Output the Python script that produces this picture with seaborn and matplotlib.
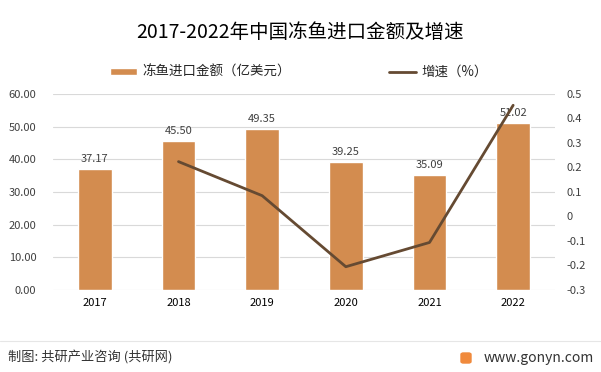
import matplotlib
matplotlib.use("Agg")
import matplotlib.pyplot as plt
import seaborn as sns
import numpy as np
import pandas as pd
from matplotlib.patches import FancyBboxPatch

years = ["2017", "2018", "2019", "2020", "2021", "2022"]
amount = [37.17, 45.50, 49.35, 39.25, 35.09, 51.02]
growth_years = ["2018", "2019", "2020", "2021", "2022"]
growth = [0.224, 0.085, -0.205, -0.106, 0.454]

bar_color = "#D38C4F"
line_color = "#654A32"

sns.set_theme(style="white")
plt.rcParams["font.family"] = ["Noto Sans CJK SC", "DejaVu Sans"]

df = pd.DataFrame({"year": years, "amount": amount})

fig = plt.figure(figsize=(6.01, 3.72), dpi=100)
ax = fig.add_axes([53 / 601, 1 - 290 / 372, (555 - 53) / 601, (290 - 94) / 372])
sns.barplot(data=df, x="year", y="amount", color=bar_color, width=0.4,
            saturation=1, ax=ax, label="冻鱼进口金额（亿美元）")
ax.set_ylim(0, 60)
ax.set_yticks(np.arange(0, 61, 10))
ax.set_yticklabels([f"{v:.2f}" for v in np.arange(0, 61, 10)], fontsize=8, color="#404040")
ax.set_xlim(-0.5, 5.5)
ax.set_xlabel("")
ax.set_ylabel("")
ax.tick_params(axis="x", labelsize=8, colors="#000000", length=0, pad=6)
ax.tick_params(axis="y", length=0, pad=12)
ax.grid(axis="y", color="#D9D9D9", linewidth=0.8)
ax.set_axisbelow(True)
for s in ax.spines.values():
    s.set_visible(False)
for i, v in enumerate(amount):
    ax.text(i, v + 1.5, f"{v:.2f}", ha="center", va="bottom", fontsize=8, color="#404040")

ax2 = ax.twinx()
gx = [years.index(y) for y in growth_years]
sns.lineplot(x=gx, y=growth, color=line_color, linewidth=2, ax=ax2, label="增速（%）")
ax2.set_ylim(-0.3, 0.5)
ticks = np.round(np.arange(-0.3, 0.51, 0.1), 1)
ax2.set_yticks(ticks)
ax2.set_yticklabels([f"{t:g}" for t in ticks], fontsize=8, color="#404040")
ax2.tick_params(axis="y", length=0, pad=8)
ax2.grid(False)
for s in ax2.spines.values():
    s.set_visible(False)
if ax2.get_legend():
    ax2.get_legend().remove()
if ax.get_legend():
    ax.get_legend().remove()

h1, l1 = ax.get_legend_handles_labels()
h2, l2 = ax2.get_legend_handles_labels()
fig.legend(h1 + h2, l1 + l2, loc="center", bbox_to_anchor=(0.497, 1 - 72 / 372), ncol=2,
           frameon=False, fontsize=9.7, columnspacing=7.3, handlelength=2.0,
           handleheight=0.45, handletextpad=0.4)

fig.text(0.5, 1 - 33 / 372, "2017-2022年中国冻鱼进口金额及增速", ha="center", va="center",
         fontsize=14, color="#000000")

fig.add_artist(plt.Line2D([0, 1], [1 - 341 / 372] * 2, color="#E6E6E6", linewidth=0.8))
fig.text(8 / 601, 1 - 358 / 372, "制图: 共研产业咨询 (共研网)", ha="left", va="center",
         fontsize=9.5, color="#333333")
fig.text(594 / 601, 1 - 358 / 372, "www.gonyn.com", ha="right", va="center",
         fontsize=10, color="#333333")
fig.patches.append(FancyBboxPatch((461 / 601, 1 - 363 / 372), 10 / 601, 10 / 372,
                                  boxstyle="round,pad=0,rounding_size=0.004",
                                  transform=fig.transFigure, color="#F08A3C", figure=fig))

fig.savefig("out.png", dpi=100)
